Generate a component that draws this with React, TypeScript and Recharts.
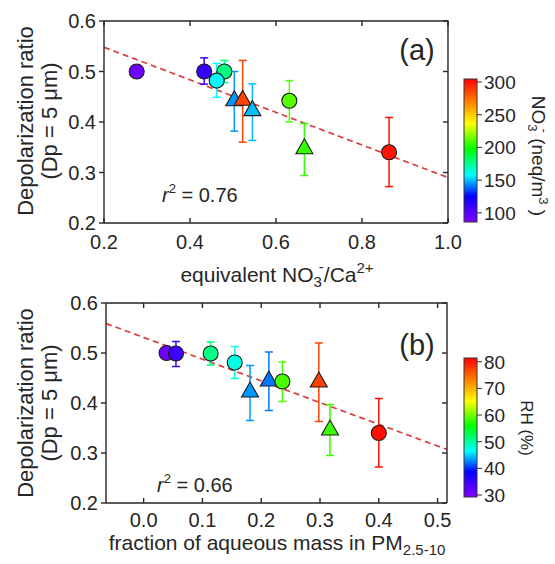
import React from 'react';
import { ScatterChart, Scatter, XAxis, YAxis, ErrorBar, ReferenceLine } from 'recharts';

const FONT = '"Liberation Sans", Arial, Helvetica, sans-serif';
const INK = '#262626';

// panel (a): depolarization ratio vs equivalent NO3-/Ca2+
const ratioA = [0.276, 0.433, 0.48, 0.462, 0.503, 0.5225, 0.545, 0.631, 0.666, 0.863];
const depolA = [0.5, 0.5, 0.5, 0.482, 0.443, 0.444, 0.4235, 0.442, 0.348, 0.34];
const errLoA = [0.008, 0.025, 0.022, 0.033, 0.061, 0.084, 0.06, 0.042, 0.054, 0.068];
const errHiA = [0.008, 0.027, 0.022, 0.034, 0.057, 0.078, 0.052, 0.04, 0.049, 0.069];
const no3A = [92, 110, 178, 158, 145, 287, 150, 211, 206, 300];
const markA = ['c', 'c', 'c', 'c', 't', 't', 't', 'c', 't', 'c'];
const fitA = [{ x: 0.2, y: 0.548 }, { x: 1.0, y: 0.29 }];
const xTicksA = [0.2, 0.4, 0.6, 0.8, 1.0];

// panel (b): depolarization ratio vs fraction of aqueous mass
const fracB = [0.039, 0.055, 0.114, 0.155, 0.181, 0.213, 0.236, 0.298, 0.317, 0.4];
const depolB = [0.5, 0.499, 0.499, 0.481, 0.423, 0.445, 0.443, 0.443, 0.347, 0.34];
const errLoB = [0.008, 0.026, 0.023, 0.032, 0.058, 0.06, 0.04, 0.08, 0.052, 0.068];
const errHiB = [0.008, 0.024, 0.023, 0.032, 0.052, 0.057, 0.039, 0.077, 0.05, 0.069];
const rhB = [30.8, 34.5, 51, 47.5, 43.3, 42.3, 58.5, 77.2, 58, 80.4];
const markB = ['c', 'c', 'c', 'c', 't', 't', 'c', 't', 't', 'c'];
const fitB = [{ x: -0.064, y: 0.559 }, { x: 0.516, y: 0.307 }];
const xTicksB = [0, 0.1, 0.2, 0.3, 0.4, 0.5];

const yTicks = [0.2, 0.3, 0.4, 0.5, 0.6];
const no3Ticks = [100, 150, 200, 250, 300];
const rhTicks = [30, 40, 50, 60, 70, 80];

// rainbow colormap, purple -> red
const stops: [number, number[]][] = [
  [0, [128, 0, 255]],
  [0.1, [64, 0, 255]],
  [0.18, [0, 0, 255]],
  [0.33, [0, 255, 255]],
  [0.51, [0, 255, 0]],
  [0.69, [255, 255, 0]],
  [0.84, [255, 128, 0]],
  [1, [255, 0, 0]],
];

function rainbow(t: number) {
  t = Math.max(0, Math.min(1, t));
  for (let i = 1; i < stops.length; i++) {
    const [t1, c1] = stops[i];
    const [t0, c0] = stops[i - 1];
    if (t <= t1) {
      const f = (t - t0) / (t1 - t0);
      const c = c0.map((v, k) => Math.round(v + (c1[k] - v) * f));
      return `rgb(${c[0]},${c[1]},${c[2]})`;
    }
  }
  return 'rgb(255,0,0)';
}

function Marker(props: any) {
  const { cx, cy, kind, color } = props;
  if (cx == null || cy == null) return null;
  if (kind === 't') {
    const pts = `${cx},${cy - 9.5} ${cx - 8.5},${cy + 5.5} ${cx + 8.5},${cy + 5.5}`;
    return <polygon points={pts} fill={color} stroke="#1a1a1a" strokeWidth={1.1} />;
  }
  return <circle cx={cx} cy={cy} r={7.5} fill={color} stroke="#1a1a1a" strokeWidth={1.1} />;
}

interface PanelProps {
  xs: number[]
  ys: number[]
  lo: number[]
  hi: number[]
  cv: number[]
  marks: string[]
  cmin: number
  cmax: number
  xDomain: [number, number]
  xTicks: number[]
  fit: { x: number; y: number }[]
  margin: { top: number; right: number; bottom: number; left: number }
  tickGap: number
}

function Panel({ xs, ys, lo, hi, cv, marks, cmin, cmax, xDomain, xTicks, fit, margin, tickGap }: PanelProps) {
  const rows = xs.map((x, i) => ({
    x,
    y: ys[i],
    err: [lo[i], hi[i]],
    color: rainbow((cv[i] - cmin) / (cmax - cmin)),
    kind: marks[i],
  }));
  const axisLine = { stroke: INK, strokeWidth: 1.4 };
  const tick = { fill: INK, fontSize: 20 };
  const fmt = (v: number) => v.toFixed(1);

  return (
    <ScatterChart width={555} height={282} margin={margin}>
      <XAxis
        type="number"
        dataKey="x"
        domain={xDomain}
        ticks={xTicks}
        allowDataOverflow
        interval={0}
        tickFormatter={fmt}
        tickSize={-5}
        tickMargin={tickGap}
        tick={tick}
        axisLine={axisLine}
        tickLine={axisLine}
        height={40}
      />
      <YAxis
        type="number"
        dataKey="y"
        domain={[0.2, 0.6]}
        ticks={yTicks}
        allowDataOverflow
        interval={0}
        tickFormatter={fmt}
        tickSize={5}
        tickMargin={3}
        tick={tick}
        axisLine={axisLine}
        tickLine={axisLine}
        width={50}
      />
      <ReferenceLine
        segment={fit}
        stroke="#dc3c3c"
        strokeWidth={1.7}
        strokeDasharray="6 4"
        ifOverflow="hidden"
      />
      {rows.map((r, i) => (
        <Scatter
          key={i}
          data={[r]}
          fill={r.color}
          isAnimationActive={false}
          shape={(p: any) => <Marker {...p} kind={r.kind} color={r.color} />}
        >
          <ErrorBar
            dataKey="err"
            direction="y"
            width={4}
            stroke={r.color}
            strokeWidth={1.5}
            isAnimationActive={false}
          />
        </Scatter>
      ))}
    </ScatterChart>
  );
}

// top and right edges of the plot box, with inward ticks (left/bottom come from the axes)
function Frame({ left, right, top, bottom, xDomain, xTicks }: { left: number; right: number; top: number; bottom: number; xDomain: [number, number]; xTicks: number[] }) {
  const px = (v: number) => left + ((v - xDomain[0]) / (xDomain[1] - xDomain[0])) * (right - left);
  const py = (v: number) => top + ((0.6 - v) / 0.4) * (bottom - top);
  return (
    <g stroke={INK} strokeWidth={1.4} fill="none">
      <path d={`M${left},${top}H${right}V${bottom}`} />
      {xTicks.map((t) => (
        <line key={`x${t}`} x1={px(t)} x2={px(t)} y1={top} y2={top + 5} />
      ))}
      {yTicks.map((t) => (
        <line key={`y${t}`} x1={right} x2={right - 5} y1={py(t)} y2={py(t)} />
      ))}
    </g>
  );
}

function ColorBar({ id, top, height, vTop, vBottom, ticks }: { id: string; top: number; height: number; vTop: number; vBottom: number; ticks: number[] }) {
  const x = 464;
  const w = 13;
  const yOf = (v: number) => top + ((vTop - v) / (vTop - vBottom)) * height;
  return (
    <g>
      <defs>
        <linearGradient id={id} x1="0" y1="1" x2="0" y2="0">
          {stops.map(([t, c]) => (
            <stop key={t} offset={t} stopColor={`rgb(${c[0]},${c[1]},${c[2]})`} />
          ))}
        </linearGradient>
      </defs>
      <rect x={x} y={top} width={w} height={height} fill={`url(#${id})`} stroke="#333" strokeWidth={1} />
      {ticks.map((t) => (
        <g key={t}>
          <line x1={x + w} x2={x + w + 5} y1={yOf(t)} y2={yOf(t)} stroke="#333" strokeWidth={1} />
          <text x={x + w + 7} y={yOf(t)} dy="0.36em" fontSize={19} fill={INK}>{t}</text>
        </g>
      ))}
    </g>
  );
}

function YTitle({ cy }: { cy: number }) {
  return (
    <g fill={INK} fontSize={22} textAnchor="middle">
      <text transform={`translate(33,${cy}) rotate(-90)`}>Depolarization ratio</text>
      <text transform={`translate(57,${cy}) rotate(-90)`}>(Dp = 5 μm)</text>
    </g>
  );
}

export default function App() {
  return (
    <div style={{ position: 'absolute', left: 0, top: 0, width: 555, height: 564, background: '#fff', fontFamily: FONT }}>
      <div style={{ position: 'absolute', left: 0, top: 0 }}>
        <Panel
          xs={ratioA} ys={depolA} lo={errLoA} hi={errHiA} cv={no3A} marks={markA}
          cmin={86} cmax={305}
          xDomain={[0.2, 1.0]} xTicks={xTicksA} fit={fitA}
          margin={{ top: 21, right: 107, bottom: 19, left: 54 }}
          tickGap={17}
        />
      </div>
      <div style={{ position: 'absolute', left: 0, top: 282 }}>
        <Panel
          xs={fracB} ys={depolB} lo={errLoB} hi={errHiB} cv={rhB} marks={markB}
          cmin={29.25} cmax={81.4}
          xDomain={[-0.064, 0.516]} xTicks={xTicksB} fit={fitB}
          margin={{ top: 21, right: 108, bottom: 21, left: 56 }}
          tickGap={15}
        />
      </div>
      <svg width={555} height={564} style={{ position: 'absolute', left: 0, top: 0, pointerEvents: 'none' }}>
        <Frame left={104} right={448} top={21} bottom={223} xDomain={[0.2, 1.0]} xTicks={xTicksA} />
        <Frame left={106} right={447} top={303} bottom={503} xDomain={[-0.064, 0.516]} xTicks={xTicksB} />

        <YTitle cy={121} />
        <YTitle cy={403} />

        <text x={277} y={282} textAnchor="middle" fontSize={21} fill={INK}>
          equivalent NO<tspan dy={5} fontSize={15}>3</tspan>
          <tspan dx={-3} dy={-15} fontSize={15}>-</tspan>
          <tspan dy={10}>/Ca</tspan>
          <tspan dy={-9} fontSize={15}>2+</tspan>
        </text>
        <text x={277} y={550} textAnchor="middle" fontSize={21} fill={INK}>
          fraction of aqueous mass in PM<tspan dy={5} fontSize={15}>2.5-10</tspan>
        </text>

        <text x={417} y={60} textAnchor="middle" fontSize={29} fill={INK}>(a)</text>
        <text x={417} y={355} textAnchor="middle" fontSize={29} fill={INK}>(b)</text>

        <text x={162} y={202} fontSize={20} fill={INK}>
          <tspan fontStyle="italic">r</tspan>
          <tspan dy={-9} fontSize={13}>2</tspan>
          <tspan dy={9}> = 0.76</tspan>
        </text>
        <text x={157} y={492} fontSize={20} fill={INK}>
          <tspan fontStyle="italic">r</tspan>
          <tspan dy={-9} fontSize={13}>2</tspan>
          <tspan dy={9}> = 0.66</tspan>
        </text>

        <ColorBar id="cbNo3" top={79} height={143} vTop={304.6} vBottom={86} ticks={no3Ticks} />
        <ColorBar id="cbRh" top={358} height={139} vTop={81.4} vBottom={29.25} ticks={rhTicks} />

        <text transform="translate(532,156) rotate(90)" textAnchor="middle" fontSize={19} fill={INK}>
          NO<tspan dy={4} fontSize={13}>3</tspan>
          <tspan dx={-3} dy={-12} fontSize={13}>-</tspan>
          <tspan dy={8}>  (neq/m</tspan>
          <tspan dy={-7} fontSize={13}>3</tspan>
          <tspan dy={7}> )</tspan>
        </text>
        <text transform="translate(521,428) rotate(90)" textAnchor="middle" fontSize={17} fill={INK}>
          RH (%)
        </text>
      </svg>
    </div>
  );
}
